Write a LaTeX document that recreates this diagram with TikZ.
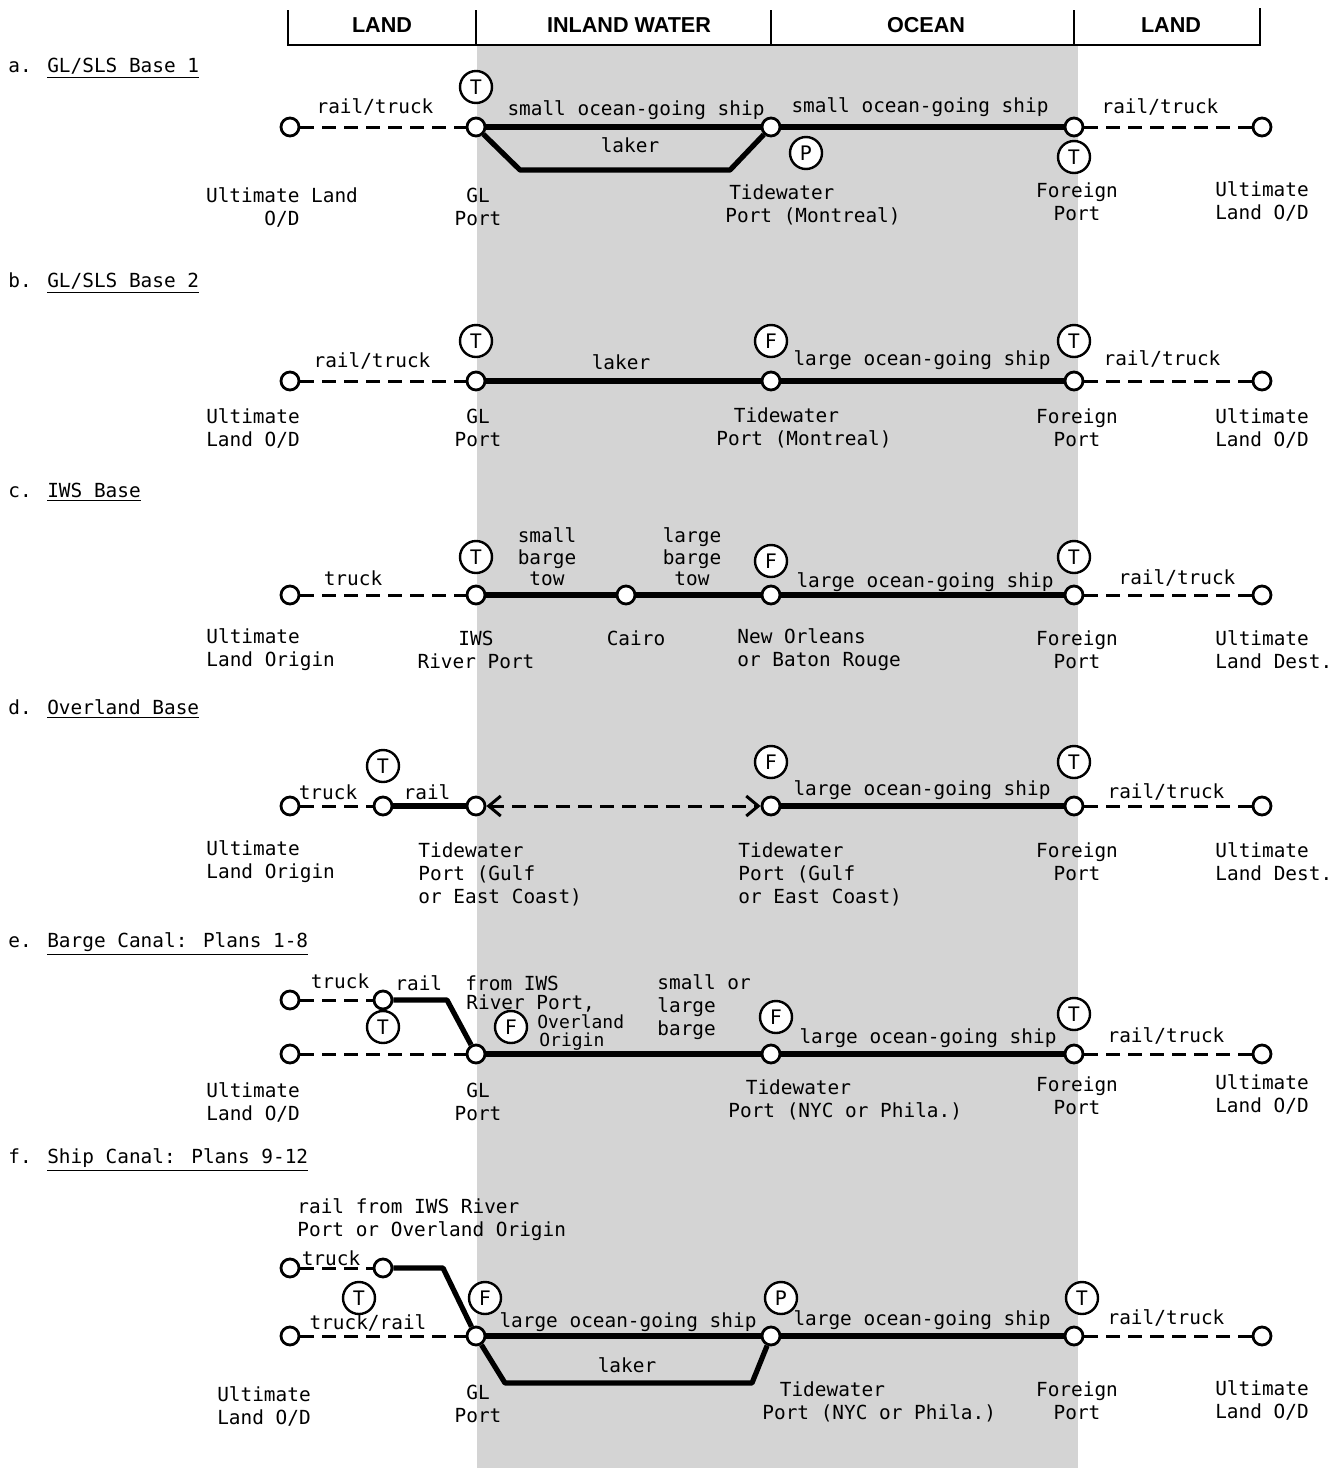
\documentclass[tikz,border=0pt]{standalone}
\usepackage{fontspec}
\newfontfamily\mono{DejaVu Sans Mono}
\newfontfamily\hdr{Liberation Sans}
\usetikzlibrary{arrows.meta}
\tikzset{barbtip/.tip={Straight Barb[length=6pt,width=10pt]}}
\begin{document}
\begin{tikzpicture}[x=0.5pt,y=-0.5pt,
  lbl/.style={font=\mono\fontsize{9.7}{11.5}\selectfont, inner sep=0pt, align=center},
  lft/.style={lbl, align=left, anchor=west},
  ttl/.style={font=\mono\fontsize{9.7}{11.5}\selectfont, inner sep=0pt, anchor=west},
  sml/.style={font=\mono\fontsize{9}{10}\selectfont, inner sep=0pt, anchor=west},
  stn/.style={circle, draw, line width=1.4pt, fill=white, minimum size=9pt, inner sep=0pt},
  tag/.style={circle, draw, line width=1.2pt, fill=white, minimum size=16pt, inner sep=0pt, font=\mono\fontsize{10}{11}\selectfont},
  road/.style={line width=1.5pt, dash pattern=on 7pt off 4pt},
  ship/.style={line width=2.6pt, line join=round},
  hd/.style={font=\hdr\bfseries\fontsize{10.8}{12}\selectfont, inner sep=0pt}
]
\path[use as bounding box] (0,0) rectangle (1342,1468);
\fill[black!17] (477,46) rectangle (1078,1468);

% ---------- header ----------
\draw[line width=1.1pt] (288,10) -- (288,45) -- (1260,45) -- (1260,8);
\foreach \x in {476,771,1074} \draw[line width=1.1pt] (\x,10) -- (\x,45);
\node[hd] (h1) at (382,25) {LAND};
\node[hd] (h2) at (629,25) {INLAND WATER};
\node[hd] (h3) at (926,25) {OCEAN};
\node[hd] (h4) at (1171,25) {LAND};

% ---------- a ----------
\node[ttl] (ta) at (8,68) {a. \underline{GL/SLS Base 1}};
\node[stn] (a1) at (290,127) {};
\node[stn] (a2) at (476,127) {};
\node[stn] (a3) at (771,127) {};
\node[stn] (a4) at (1074,127) {};
\node[stn] (a5) at (1262,127) {};
\coordinate (aL1) at (520,170);
\coordinate (aL2) at (730,170);
\draw[road] (a1) -- (a2);
\draw[ship] (a2) -- (a3);
\draw[ship] (a2) -- (aL1) -- (aL2) -- (a3);
\draw[ship] (a3) -- (a4);
\draw[road] (a4) -- (a5);
\node[tag] (aT1) at (476,87) {T};
\node[tag] (aP) at (806,153) {P};
\node[tag] (aT2) at (1074,157) {T};
\node[lbl] (la1) at (375,107) {rail/truck};
\node[lbl] (la2) at (636,110) {small ocean-going ship};
\node[lbl] (la3) at (630,145) {laker};
\node[lbl] (la4) at (920,107) {small ocean-going ship};
\node[lbl] (la5) at (1160,107) {rail/truck};
\node[lbl] (la6) at (282,207) {Ultimate Land\\O/D};
\node[lbl] (la7) at (478,207) {GL\\Port};
\node[lft] (la8) at (725,205) {\hspace*{0.2em}Tidewater\\Port (Montreal)};
\node[lbl] (la9) at (1077,202) {Foreign\\Port};
\node[lbl] (la10) at (1262,201) {Ultimate\\Land O/D};

% ---------- b ----------
\node[ttl] (tb) at (8,283) {b. \underline{GL/SLS Base 2}};
\node[stn] (b1) at (290,381) {};
\node[stn] (b2) at (476,381) {};
\node[stn] (b3) at (771,381) {};
\node[stn] (b4) at (1074,381) {};
\node[stn] (b5) at (1262,381) {};
\draw[road] (b1) -- (b2);
\draw[ship] (b2) -- (b3);
\draw[ship] (b3) -- (b4);
\draw[road] (b4) -- (b5);
\node[tag] (bT1) at (476,341) {T};
\node[tag] (bF) at (771,341) {F};
\node[tag] (bT2) at (1074,341) {T};
\node[lbl] (lb1) at (372,361) {rail/truck};
\node[lbl] (lb2) at (621,362) {laker};
\node[lbl] (lb3) at (922,360) {large ocean-going ship};
\node[lbl] (lb4) at (1162,359) {rail/truck};
\node[lbl] (lb5) at (253,428) {Ultimate\\Land O/D};
\node[lbl] (lb6) at (478,428) {GL\\Port};
\node[lft] (lb7) at (716,428) {\hspace*{0.9em}Tidewater\\Port (Montreal)};
\node[lbl] (lb8) at (1077,428) {Foreign\\Port};
\node[lbl] (lb9) at (1262,428) {Ultimate\\Land O/D};

% ---------- c ----------
\node[ttl] (tc) at (8,492) {c. \underline{IWS Base}};
\node[stn] (c1) at (290,595) {};
\node[stn] (c2) at (476,595) {};
\node[stn] (c3) at (626,595) {};
\node[stn] (c4) at (771,595) {};
\node[stn] (c5) at (1074,595) {};
\node[stn] (c6) at (1262,595) {};
\draw[road] (c1) -- (c2);
\draw[ship] (c2) -- (c3);
\draw[ship] (c3) -- (c4);
\draw[ship] (c4) -- (c5);
\draw[road] (c5) -- (c6);
\node[tag] (cT1) at (476,557) {T};
\node[tag] (cF) at (771,561) {F};
\node[tag] (cT2) at (1074,557) {T};
\node[lbl] (lc1) at (353,578) {truck};
\node[lbl, font=\mono\fontsize{9.7}{10.8}\selectfont] (lc2) at (547,557) {small\\barge\\tow};
\node[lbl, font=\mono\fontsize{9.7}{10.8}\selectfont] (lc3) at (692,557) {large\\barge\\tow};
\node[lbl] (lc4) at (925,582) {large ocean-going ship};
\node[lbl] (lc5) at (1177,578) {rail/truck};
\node[lft] (lc6) at (206,650) {Ultimate\\Land Origin};
\node[lbl] (lc7) at (476,650) {IWS\\River Port};
\node[lbl] (lc8) at (636,638) {Cairo};
\node[lft] (lc9) at (737,650) {New Orleans\\or Baton Rouge};
\node[lbl] (lc10) at (1077,650) {Foreign\\Port};
\node[lft] (lc11) at (1215,650) {Ultimate\\Land Dest.};

% ---------- d ----------
\node[ttl] (td) at (8,709) {d. \underline{Overland Base}};
\node[stn] (d1) at (290,806) {};
\node[stn] (d2) at (383,806) {};
\node[stn] (d3) at (476,806) {};
\node[stn] (d4) at (771,806) {};
\node[stn] (d5) at (1074,806) {};
\node[stn] (d6) at (1262,806) {};
\draw[road] (d1) -- (d2);
\draw[ship] (d2) -- (d3);
\draw[road, barbtip-barbtip] (d3) -- (d4);
\draw[ship] (d4) -- (d5);
\draw[road] (d5) -- (d6);
\node[tag] (dT1) at (383,766) {T};
\node[tag] (dF) at (771,762) {F};
\node[tag] (dT2) at (1074,762) {T};
\node[lbl] (ld1) at (328,792) {truck};
\node[lbl] (ld2) at (427,792) {rail};
\node[lbl] (ld3) at (922,790) {large ocean-going ship};
\node[lbl] (ld4) at (1166,792) {rail/truck};
\node[lft] (ld5) at (206,862) {Ultimate\\Land Origin};
\node[lft] (ld6) at (418,874) {Tidewater\\Port (Gulf\\or East Coast)};
\node[lft] (ld7) at (738,874) {Tidewater\\Port (Gulf\\or East Coast)};
\node[lbl] (ld8) at (1077,862) {Foreign\\Port};
\node[lft] (ld9) at (1215,862) {Ultimate\\Land Dest.};

% ---------- e ----------
\node[ttl] (te) at (8,944) {e. \underline{Barge Canal: Plans 1-8}};
\node[stn] (e1u) at (290,1000) {};
\node[stn] (e2u) at (383,1000) {};
\coordinate (eB) at (447,1000);
\node[stn] (e1) at (290,1054) {};
\node[stn] (e3) at (476,1054) {};
\node[stn] (e4) at (771,1054) {};
\node[stn] (e5) at (1074,1054) {};
\node[stn] (e6) at (1262,1054) {};
\draw[road] (e1u) -- (e2u);
\draw[ship] (e2u) -- (eB) -- (e3);
\draw[road] (e1) -- (e3);
\draw[ship] (e3) -- (e4);
\draw[ship] (e4) -- (e5);
\draw[road] (e5) -- (e6);
\node[tag] (eT1) at (383,1027) {T};
\node[tag] (eF1) at (511,1027) {F};
\node[tag] (eF2) at (776,1017) {F};
\node[tag] (eT2) at (1074,1014) {T};
\node[lbl] (le1) at (340,981) {truck};
\node[ttl] (le2) at (395,983) {rail\ \ from IWS};
\node[ttl] (le3) at (466,1003) {River Port,};
\node[sml] (le4) at (537,1022) {Overland};
\node[sml] (le5) at (539,1042) {Origin};
\node[lft] (le6) at (657,1007) {small or\\large\\barge};
\node[lbl] (le7) at (928,1038) {large ocean-going ship};
\node[lbl] (le8) at (1166,1036) {rail/truck};
\node[lft] (le9) at (206,1102) {Ultimate\\Land O/D};
\node[lbl] (le10) at (478,1102) {GL\\Port};
\node[lft] (le11) at (728,1100) {\hspace*{0.9em}Tidewater\\Port (NYC or Phila.)};
\node[lbl] (le12) at (1077,1096) {Foreign\\Port};
\node[lbl] (le13) at (1262,1094) {Ultimate\\Land O/D};

% ---------- f ----------
\node[ttl] (tf) at (8,1160) {f. \underline{Ship Canal: Plans 9-12}};
\node[lft] (lf0) at (297,1220) {rail from IWS River\\Port or Overland Origin};
\node[stn] (f1u) at (290,1268) {};
\node[stn] (f2u) at (383,1268) {};
\coordinate (fB) at (443,1268);
\node[stn] (f1) at (290,1336) {};
\node[stn] (f3) at (476,1336) {};
\node[stn] (f4) at (771,1336) {};
\node[stn] (f5) at (1074,1336) {};
\node[stn] (f6) at (1262,1336) {};
\coordinate (fL1) at (505,1383);
\coordinate (fL2) at (752,1383);
\draw[road] (f1u) -- (f2u);
\draw[ship] (f2u) -- (fB) -- (f3);
\draw[road] (f1) -- (f3);
\draw[ship] (f3) -- (f4);
\draw[ship] (f3) -- (fL1) -- (fL2) -- (f4);
\draw[ship] (f4) -- (f5);
\draw[road] (f5) -- (f6);
\node[tag] (fT1) at (359,1298) {T};
\node[tag] (fF) at (485,1298) {F};
\node[tag] (fP) at (781,1298) {P};
\node[tag] (fT2) at (1082,1298) {T};
\node[lbl] (lf1) at (331,1258) {truck};
\node[lbl] (lf2) at (368,1323) {truck/rail};
\node[lbl] (lf3) at (628,1322) {large ocean-going ship};
\node[lbl] (lf4) at (627,1365) {laker};
\node[lbl] (lf5) at (922,1320) {large ocean-going ship};
\node[lbl] (lf6) at (1166,1318) {rail/truck};
\node[lbl] (lf7) at (264,1406) {Ultimate\\Land O/D};
\node[lbl] (lf8) at (478,1404) {GL\\Port};
\node[lft] (lf9) at (762,1402) {\hspace*{0.9em}Tidewater\\Port (NYC or Phila.)};
\node[lbl] (lf10) at (1077,1401) {Foreign\\Port};
\node[lbl] (lf11) at (1262,1400) {Ultimate\\Land O/D};
\end{tikzpicture}
\end{document}
